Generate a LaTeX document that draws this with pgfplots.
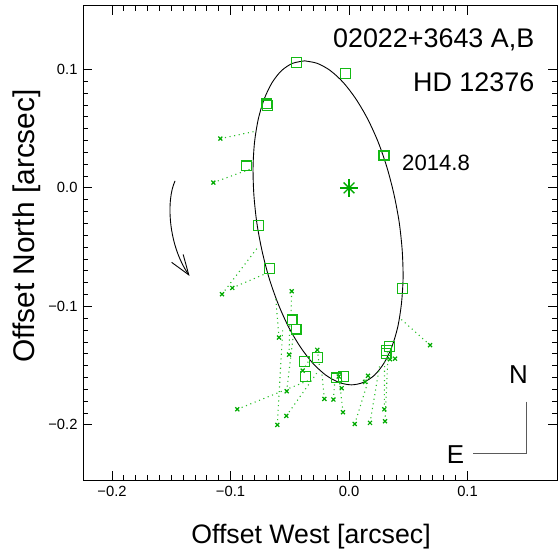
\documentclass[border=0pt]{standalone}
\usepackage{pgfplots}
\pgfplotsset{compat=1.18}
\usetikzlibrary{arrows.meta}
\usepackage{fontspec}
\setmainfont{Liberation Sans}
\definecolor{sqgreen}{RGB}{20,185,20}
\definecolor{xgreen}{RGB}{0,170,0}
\definecolor{dgreen}{RGB}{40,190,40}
\definecolor{cgray}{RGB}{90,90,90}
\begin{document}
\begin{tikzpicture}
\begin{axis}[
  scale only axis, width=474bp, height=474bp,
  xmin=-0.2245, xmax=0.1755, ymin=-0.2465, ymax=0.1535,
  axis line style={line width=1pt},
  tick style={black, line width=0.8pt},
  major tick length=9bp, minor tick length=5bp,
  tick align=inside,
  xtick={-0.2,-0.1,0,0.1}, ytick={-0.2,-0.1,0,0.1},
  xticklabels={−0.2,−0.1,0.0,0.1}, yticklabels={−0.2,−0.1,0.0,0.1},
  minor x tick num=9, minor y tick num=9,
  ticklabel style={font=\fontsize{14.8}{17}\selectfont},
  yticklabel style={xshift=-2bp},
  xticklabel style={yshift=-3bp},
  xlabel={Offset West [arcsec]}, ylabel={Offset North [arcsec]},
  xlabel style={font=\fontsize{26.8}{31}\selectfont, at={(axis description cs:0.481,-0.120)}, anchor=center},
  ylabel style={font=\fontsize{30}{35}\selectfont, at={(axis description cs:-0.119,0.536)}, anchor=center},
  unbounded coords=jump,
  clip=false,
]
% orbit
\addplot[black, line width=0.9pt, smooth, mark=none] coordinates {
(-0.0375,0.1072) (-0.0268,0.1051) (-0.0158,0.0990) (-0.0048,0.0889) (0.0057,0.0752) (0.0156,0.0584) (0.0245,0.0389) (0.0320,0.0173) (0.0380,-0.0058) (0.0424,-0.0295) (0.0449,-0.0532) (0.0456,-0.0763) (0.0442,-0.0979) (0.0411,-0.1174) (0.0361,-0.1342) (0.0295,-0.1479) (0.0215,-0.1580) (0.0122,-0.1641) (0.0021,-0.1662) (-0.0086,-0.1641) (-0.0196,-0.1580) (-0.0306,-0.1479) (-0.0411,-0.1342) (-0.0510,-0.1174) (-0.0598,-0.0979) (-0.0674,-0.0763) (-0.0734,-0.0532) (-0.0778,-0.0295) (-0.0803,-0.0058) (-0.0810,0.0173) (-0.0797,0.0389) (-0.0765,0.0584) (-0.0715,0.0752) (-0.0649,0.0889) (-0.0569,0.0990) (-0.0477,0.1051) (-0.0375,0.1072)
};
% residual lines: measurement -> orbit position
\addplot[dgreen, line width=1.1pt, dash pattern=on 1.1pt off 3.6pt, mark=none] table {
x y
-0.1086 0.0416
-0.078 0.048
nan nan
-0.1145 0.0045
-0.083 0.016
nan nan
-0.1072 -0.0897
-0.0765 -0.0495
nan nan
-0.0985 -0.0844
-0.0695 -0.0720
nan nan
-0.0484 -0.0872
-0.049 -0.110
nan nan
-0.0591 -0.1263
-0.062 -0.091
nan nan
-0.0526 -0.1716
-0.047 -0.124
nan nan
-0.0605 -0.2000
-0.056 -0.120
nan nan
-0.0529 -0.1924
-0.0273 -0.1564
nan nan
-0.0943 -0.1868
-0.0329 -0.1620
nan nan
-0.0268 -0.1367
-0.025 -0.150
nan nan
-0.0391 -0.1542
-0.034 -0.146
nan nan
-0.0087 -0.1592
-0.006 -0.163
nan nan
-0.0062 -0.1690
-0.004 -0.165
nan nan
0.0160 -0.1586
0.012 -0.164
nan nan
0.0135 -0.1637
0.010 -0.165
nan nan
-0.0208 -0.1781
-0.023 -0.156
nan nan
-0.0132 -0.1786
-0.012 -0.163
nan nan
-0.0051 -0.1893
-0.008 -0.164
nan nan
0.0048 -0.1992
0.0177 -0.158
nan nan
0.0177 -0.1983
0.026 -0.149
nan nan
0.0304 -0.1969
0.033 -0.138
nan nan
0.0298 -0.1868
0.030 -0.145
nan nan
0.0346 -0.1446
0.031 -0.141
nan nan
0.0388 -0.1441
0.032 -0.139
nan nan
0.0684 -0.1327
0.043 -0.110
nan nan
-0.0506 -0.1407
-0.050 -0.115
};
% crosses (less accurate measurements)
\addplot[only marks, mark=x, mark size=2.8bp, xgreen, line width=1.2pt] table {
x y
-0.1086 0.0416
-0.1145 0.0045
-0.1072 -0.0897
-0.0985 -0.0844
-0.0484 -0.0872
-0.0591 -0.1263
-0.0526 -0.1716
-0.0605 -0.2000
-0.0529 -0.1924
-0.0943 -0.1868
-0.0268 -0.1367
-0.0391 -0.1542
-0.0087 -0.1592
-0.0062 -0.1690
0.0160 -0.1586
0.0135 -0.1637
-0.0208 -0.1781
-0.0132 -0.1786
-0.0051 -0.1893
0.0048 -0.1992
0.0177 -0.1983
0.0304 -0.1969
0.0298 -0.1868
0.0346 -0.1446
0.0388 -0.1441
0.0684 -0.1327
-0.0506 -0.1407
};
% squares (accurate measurements)
\addplot[only marks, mark=square, mark size=4.9bp, sqgreen, line width=1.2pt] table {
x y
-0.0445 0.1057
-0.0031 0.0965
-0.0695 0.0709
-0.0686 0.0697
0.0295 0.0276
0.0300 0.0270
-0.0863 0.0186
-0.0765 -0.0315
-0.0673 -0.0679
-0.0481 -0.1114
-0.0447 -0.1192
0.0453 -0.0850
-0.0376 -0.1466
-0.0264 -0.1429
-0.0365 -0.1592
-0.0104 -0.1603
-0.0048 -0.1592
0.0340 -0.1339
0.0318 -0.1373
0.0312 -0.1395
};
% primary star
\addplot[only marks, mark=+, mark size=9bp, xgreen, line width=1.3pt] coordinates {(0,0)};
\addplot[only marks, mark=x, mark size=7.6bp, xgreen, line width=1.3pt] coordinates {(0,0)};
% annotations
\node[anchor=base east, font=\fontsize{27}{32}\selectfont, inner sep=0pt] at (axis cs:0.1565,0.1187) {02022+3643 A,B};
\node[anchor=base east, font=\fontsize{27}{32}\selectfont, inner sep=0pt] at (axis cs:0.1565,0.0813) {HD 12376};
\node[anchor=base west, font=\fontsize{22.2}{27}\selectfont, inner sep=0pt] at (axis cs:0.0447,0.0146) {2014.8};
\draw[black, line width=0.9pt, -{Straight Barb[length=20bp,width=14bp]}] (axis cs:-0.1468,0.0059) .. controls (axis cs:-0.1544,-0.0101) and (axis cs:-0.1527,-0.0481) .. (axis cs:-0.1346,-0.0743);
\draw[cgray, line width=1pt] (axis cs:0.1494,-0.1803) -- (axis cs:0.1494,-0.2239) -- (axis cs:0.1044,-0.2239);
\node[anchor=base, font=\fontsize{26}{31}\selectfont, inner sep=0pt] at (axis cs:0.1429,-0.1648) {N};
\node[anchor=base, font=\fontsize{26}{31}\selectfont, inner sep=0pt] at (axis cs:0.0898,-0.2323) {E};
\end{axis}
\pgfresetboundingbox
\path[use as bounding box] (-83bp,-70bp) rectangle (475bp,480bp);
\end{tikzpicture}
\end{document}
